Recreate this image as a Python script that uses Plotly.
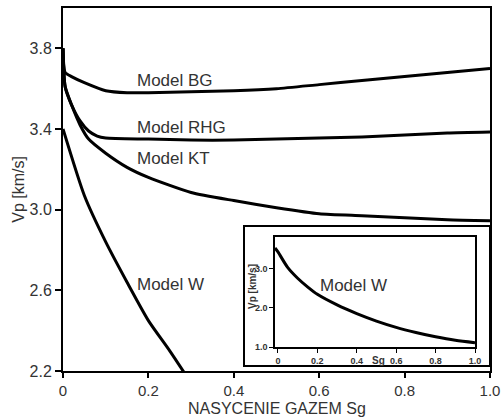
import plotly.graph_objects as go

# ---- data ----
bg_x = [0.0, 0.005, 0.02, 0.05, 0.1, 0.15, 0.2, 0.3, 0.4, 0.5, 0.6, 0.7, 0.8, 0.9, 1.0]
bg_y = [3.80, 3.68, 3.66, 3.63, 3.59, 3.58, 3.58, 3.585, 3.59, 3.60, 3.62, 3.64, 3.66, 3.68, 3.70]

rhg_x = [0.0, 0.005, 0.02, 0.04, 0.06, 0.08, 0.1, 0.2, 0.3, 0.4, 0.5, 0.6, 0.7, 0.8, 0.9, 1.0]
rhg_y = [3.80, 3.61, 3.52, 3.44, 3.39, 3.365, 3.355, 3.35, 3.345, 3.345, 3.35, 3.355, 3.36, 3.37, 3.38, 3.385]

kt_x = [0.0, 0.005, 0.02, 0.04, 0.06, 0.1, 0.15, 0.2, 0.3, 0.4, 0.5, 0.6, 0.7, 0.8, 0.9, 1.0]
kt_y = [3.80, 3.61, 3.52, 3.42, 3.35, 3.28, 3.21, 3.16, 3.085, 3.045, 3.01, 2.98, 2.97, 2.96, 2.95, 2.945]

w_x = [0.0, 0.05, 0.1, 0.15, 0.2, 0.25, 0.3]
w_y = [3.40, 3.07, 2.84, 2.64, 2.45, 2.30, 2.14]

inset_x = [-0.015, 0.0, 0.05, 0.1, 0.15, 0.2, 0.3, 0.4, 0.5, 0.6, 0.7, 0.8, 0.9, 1.0]
inset_y = [3.52, 3.42, 3.02, 2.75, 2.53, 2.34, 2.07, 1.85, 1.66, 1.50, 1.37, 1.26, 1.17, 1.11]

main_xticks = [0, 0.2, 0.4, 0.6, 0.8, 1.0]
main_xticklabels = ["0", "0.2", "0.4", "0.6", "0.8", "1.0"]
main_yticks = [2.2, 2.6, 3.0, 3.4, 3.8]
main_yticklabels = ["2.2", "2.6", "3.0", "3.4", "3.8"]
inset_xticks = [0, 0.2, 0.4, 0.6, 0.8, 1.0]
inset_xticklabels = ["0", "0.2", "0.4", "0.6", "0.8", "1.0"]
inset_yticks = [1.0, 2.0, 3.0]
inset_yticklabels = ["1.0", "2.0", "3.0"]

labels = [("Model BG", 0.169, 3.643), ("Model RHG", 0.169, 3.405),
          ("Model KT", 0.169, 3.256), ("Model W", 0.169, 2.627)]

FONT = "Liberation Sans, Arial, sans-serif"
line = dict(color="black", width=3)

fig = go.Figure()
for xs, ys in [(bg_x, bg_y), (rhg_x, rhg_y), (kt_x, kt_y), (w_x, w_y)]:
    fig.add_trace(go.Scatter(x=xs, y=ys, mode="lines", line=dict(line, shape="spline", smoothing=0.6),
                             xaxis="x", yaxis="y", showlegend=False, hoverinfo="skip", cliponaxis=True))
fig.add_trace(go.Scatter(x=inset_x, y=inset_y, mode="lines", line=dict(line, shape="spline", smoothing=0.8),
                         xaxis="x2", yaxis="y2", showlegend=False, hoverinfo="skip"))

annotations = []
for t, x, y in labels:
    annotations.append(dict(text=t, x=x, y=y, xref="x", yref="y", xanchor="left", yanchor="middle",
                            showarrow=False, font=dict(family=FONT, size=17, color="#333")))
annotations.append(dict(text="Model W", x=0.204, y=2.57, xref="x2", yref="y2", xanchor="left",
                        yanchor="middle", showarrow=False, font=dict(family=FONT, size=17, color="#333")))
annotations.append(dict(text="NASYCENIE GAZEM Sg", x=0.5, y=-0.102, xref="paper", yref="paper",
                        xanchor="center", yanchor="middle", showarrow=False,
                        font=dict(family=FONT, size=16, color="#333")))
annotations.append(dict(text="Vp [km/s]", x=-0.105, y=0.50, xref="paper", yref="paper", textangle=-90,
                        xanchor="center", yanchor="middle", showarrow=False,
                        font=dict(family=FONT, size=16, color="#333")))
annotations.append(dict(text="Vp [km/s]", x=(252 - 63) / 427, y=(371 - 287) / 363, xref="paper", yref="paper",
                        textangle=-90, xanchor="center", yanchor="middle", showarrow=False,
                        font=dict(family=FONT, size=10, color="#333", weight="bold")))
annotations.append(dict(text="Sg", x=(378 - 63) / 427, y=(371 - 360) / 363, xref="paper", yref="paper",
                        xanchor="center", yanchor="middle", showarrow=False,
                        font=dict(family=FONT, size=10, color="#333", weight="bold")))

fig.update_layout(
    width=501, height=417,
    margin=dict(l=63, r=11, t=8, b=46),
    paper_bgcolor="white", plot_bgcolor="white",
    xaxis=dict(domain=[0, 1], range=[0, 1.0], tickvals=main_xticks, ticktext=main_xticklabels,
               showgrid=False, zeroline=False, showline=True, linecolor="black", linewidth=2,
               mirror=True, ticks="outside", ticklen=5, tickwidth=1.5, tickcolor="black", automargin=False,
               tickfont=dict(family=FONT, size=15, color="#333")),
    yaxis=dict(domain=[0, 1], range=[2.2, 4.0], tickvals=main_yticks, ticktext=main_yticklabels,
               showgrid=False, zeroline=False, showline=True, linecolor="black", linewidth=2,
               mirror=True, ticks="outside", ticklen=6, tickwidth=1.5, tickcolor="black", automargin=False,
               tickfont=dict(family=FONT, size=16, color="#333")),
    xaxis2=dict(domain=[(275 - 63) / 427, (475 - 63) / 427], range=[-0.015, 1.0], anchor="y2",
                tickvals=inset_xticks, ticktext=inset_xticklabels, automargin=False,
                showgrid=False, zeroline=False, showline=True, linecolor="black", linewidth=1.5,
                mirror=True, ticks="outside", ticklen=4, tickwidth=1, tickcolor="black",
                tickfont=dict(family=FONT, size=9, color="#333", weight="bold")),
    yaxis2=dict(domain=[(371 - 347) / 363, (371 - 237) / 363], range=[1.0, 3.8], anchor="x2",
                tickvals=inset_yticks, ticktext=inset_yticklabels, automargin=False,
                showgrid=False, zeroline=False, showline=True, linecolor="black", linewidth=1.5,
                mirror=True, ticks="outside", ticklen=4, tickwidth=1, tickcolor="black",
                tickfont=dict(family=FONT, size=9, color="#333", weight="bold")),
    shapes=[dict(type="rect", xref="paper", yref="paper",
                 x0=(244 - 63) / 427, x1=1.0, y0=(371 - 366) / 363, y1=(371 - 226) / 363,
                 line=dict(color="black", width=2), fillcolor="rgba(0,0,0,0)", layer="below")],
    annotations=annotations,
)

fig.write_html("out.html")
